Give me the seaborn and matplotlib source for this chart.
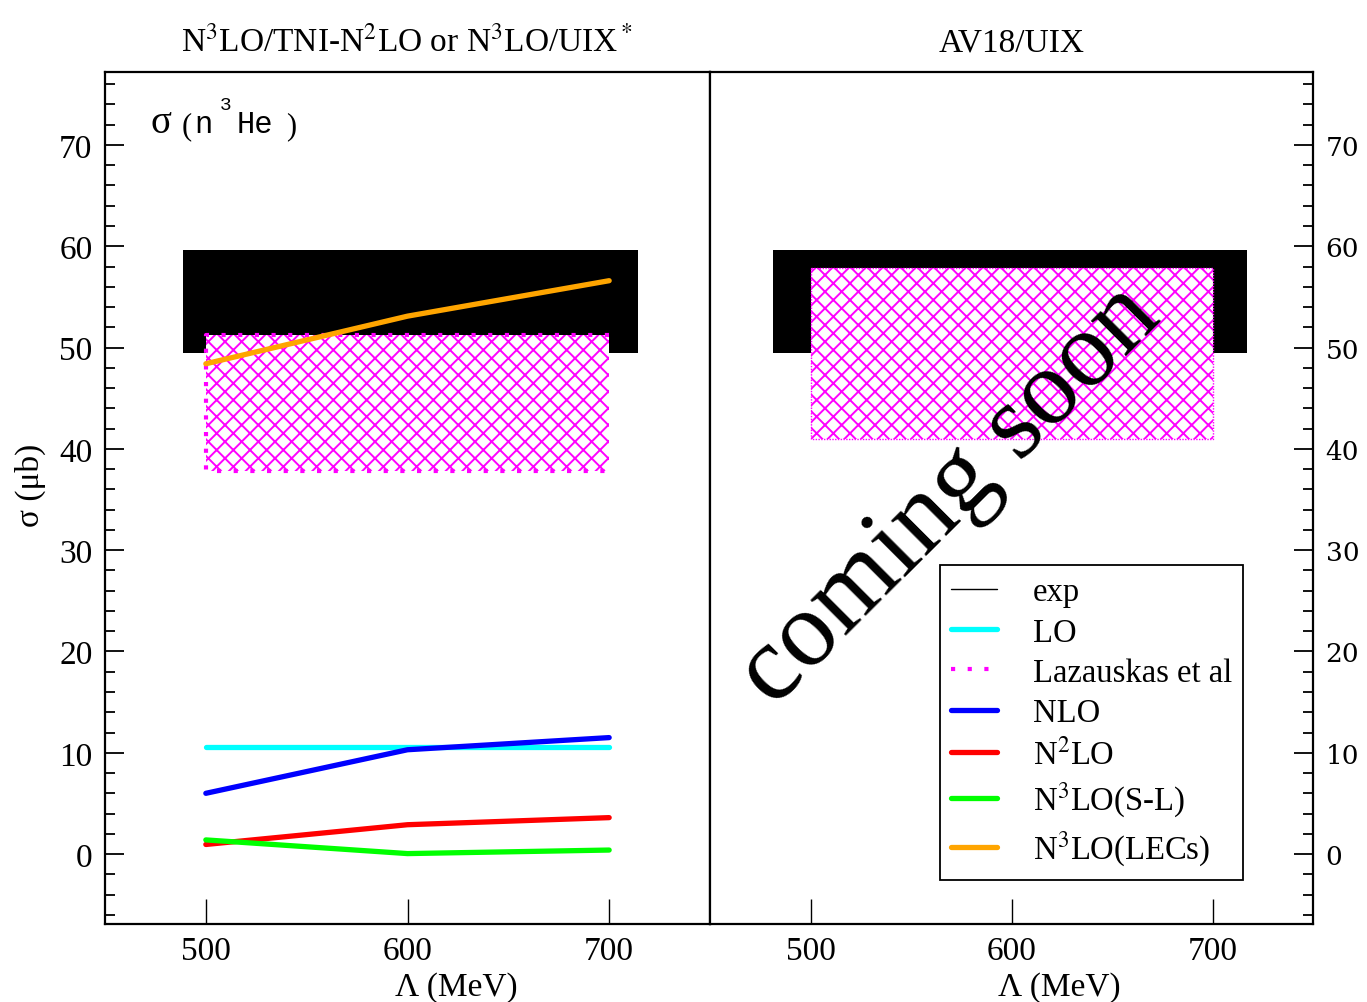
import numpy as np
import pandas as pd
import matplotlib
matplotlib.use("Agg")
import matplotlib.pyplot as plt
import seaborn as sns
from matplotlib.lines import Line2D

# ---------------- data ----------------
cutoff = [500, 600, 700]
lo = [10.6, 10.6, 10.6]
nlo = [6.0, 10.3, 11.5]
n2lo = [0.95, 2.9, 3.6]
n3lo_sl = [1.4, 0.05, 0.4]
n3lo_lecs = [48.4, 53.1, 56.6]

exp_band = [49.5, 59.6]
exp_x_left = [488.6, 714.4]
exp_x_right = [481.1, 717.4]
laz_x = [500, 700]
laz_left = [37.8, 51.2]
laz_right = [41.0, 57.9]

xticks = [500, 600, 700]
yticks = [0, 10, 20, 30, 40, 50, 60, 70]

title_left = r"N$^3$LO/TNI-N$^2$LO or N$^3$LO/UIX$^*$"
title_right = "AV18/UIX"
legend_labels = ["exp", "LO", "Lazauskas et al", "NLO", r"N$^2$LO",
                 r"N$^3$LO(S-L)", r"N$^3$LO(LECs)"]

# ---------------- style ----------------
sns.set_theme(style="ticks")
plt.rcParams["font.family"] = ["Liberation Serif", "DejaVu Serif"]
plt.rcParams["mathtext.fontset"] = "stix"
plt.rcParams["hatch.linewidth"] = 1.4
plt.rcParams["hatch.color"] = "magenta"
plt.rcParams["text.color"] = "black"
plt.rcParams["axes.labelcolor"] = "black"
plt.rcParams["xtick.color"] = "black"
plt.rcParams["ytick.color"] = "black"

W, H = 1367, 1003
fig = plt.figure(figsize=(W / 100, H / 100), dpi=100)
axL = fig.add_axes([105 / W, (H - 925) / H, 605 / W, 852 / H])
axR = fig.add_axes([710 / W, (H - 925) / H, 603 / W, 852 / H])

colors = {"LO": "#00FFFF", "NLO": "#0000FF", "N2LO": "#FF0000",
          "N3LO_SL": "#00FF00", "N3LO_LECs": "#FFA500"}
LW = 3.8

for ax, ex, lz in [(axL, exp_x_left, laz_left), (axR, exp_x_right, laz_right)]:
    ax.set_xlim(450, 750)
    ax.set_ylim(-6.9, 77.2)
    ax.fill_between(ex, exp_band[0], exp_band[1], color="black", lw=0, zorder=1)
    ax.fill_between(laz_x, lz[0], lz[1], facecolor="white", edgecolor="magenta",
                    hatch="xx", lw=0, zorder=2)
    for s in ax.spines.values():
        s.set_linewidth(1.6)
        s.set_color("black")
        s.set_visible(True)
    ax.set_xticks(xticks)
    ax.set_yticks(yticks)
    ax.set_yticks(np.arange(-6, 77, 2), minor=True)
    ax.tick_params(axis="x", which="major", direction="in", length=18, width=1.0,
                   labelsize=24, pad=8, top=False, bottom=True, colors="black")
    ax.tick_params(axis="x", which="minor", bottom=False, top=False)
    ax.set_xlabel(r"Λ (MeV)", fontsize=24)
    ax.xaxis.set_label_coords(0.58, -0.073)
    ax.xaxis.label.set_va("center")
    ax.grid(False)

# dotted outline of Lazauskas box
axL.plot([700, 500, 500, 700], [laz_left[1], laz_left[1], laz_left[0], laz_left[0]],
         color="magenta", ls=(0, (1, 3)), lw=3, zorder=3)
axR.plot([500, 700, 700, 500, 500],
         [laz_right[1], laz_right[1], laz_right[0], laz_right[0], laz_right[1]],
         color="magenta", ls=(0, (1, 1)), lw=1, zorder=3)

# theory lines
sns.lineplot(x=cutoff, y=lo, color=colors["LO"], lw=LW, ax=axL, zorder=4)
sns.lineplot(x=cutoff, y=nlo, color=colors["NLO"], lw=LW, ax=axL, zorder=5)
sns.lineplot(x=cutoff, y=n2lo, color=colors["N2LO"], lw=LW, ax=axL, zorder=5)
sns.lineplot(x=cutoff, y=n3lo_sl, color=colors["N3LO_SL"], lw=LW, ax=axL, zorder=6)
sns.lineplot(x=cutoff, y=n3lo_lecs, color=colors["N3LO_LECs"], lw=LW, ax=axL, zorder=6)
for ax in (axL, axR):
    ax.set_xlim(450, 750)
    ax.set_ylim(-6.9, 77.2)

# y ticks
axL.tick_params(axis="y", which="major", direction="in", length=14, width=1.3,
                left=True, right=False, labelleft=True, labelright=False,
                labelsize=24, pad=9, colors="black")
axL.tick_params(axis="y", which="minor", direction="in", length=7, width=1.3,
                left=True, right=False)
axR.tick_params(axis="y", which="major", direction="in", length=14, width=1.3,
                left=False, right=True, labelleft=False, labelright=True,
                labelsize=19, pad=9, colors="black")
axR.tick_params(axis="y", which="minor", direction="in", length=7, width=1.3,
                left=False, right=True)
for lab in axR.get_yticklabels():
    lab.set_family("DejaVu Serif")

axL.set_ylabel("σ (μb)", fontsize=24)
axL.yaxis.set_label_coords(-0.098, 0.516)
axR.set_ylabel("")

# panel annotations
trL = axL.transAxes
def axpt(px, py):
    return ((px - 105) / 605, (925 - py) / 852)
axL.text(*axpt(150, 133), "σ", fontsize=28, transform=trL, va="baseline", ha="left")
axL.text(*axpt(182, 134), "(", fontsize=22, transform=trL, va="baseline", ha="left")
axL.text(*axpt(194, 133), "n", fontsize=22, family="Liberation Mono",
         transform=trL, va="baseline", ha="left")
axL.text(*axpt(220, 110), "3", fontsize=14, family="Liberation Mono",
         transform=trL, va="baseline", ha="left")
axL.text(*axpt(237, 133), "He", fontsize=22, family="Liberation Mono",
         transform=trL, va="baseline", ha="left")
axL.text(*axpt(286, 134), ")", fontsize=22, transform=trL, va="baseline", ha="left")

fig.text(407 / W, 1 - 51 / H, title_left, fontsize=24, ha="center", va="baseline")
fig.text(1012 / W, 1 - 51 / H, title_right, fontsize=24, ha="center", va="baseline")

axR.text(569.5, 35.5, "coming soon", fontsize=77, rotation=45, color="black",
         rotation_mode="anchor", ha="center", va="center", zorder=7)

# legend
handles = [
    Line2D([], [], color="black", lw=1.0),
    Line2D([], [], color=colors["LO"], lw=LW),
    Line2D([], [], color="magenta", lw=3, ls=(0, (1, 3))),
    Line2D([], [], color=colors["NLO"], lw=LW),
    Line2D([], [], color=colors["N2LO"], lw=LW),
    Line2D([], [], color=colors["N3LO_SL"], lw=LW),
    Line2D([], [], color=colors["N3LO_LECs"], lw=LW),
]
leg = axR.legend(handles, legend_labels, loc="upper left",
                 bbox_to_anchor=(0.381, 0.421), borderaxespad=0,
                 fontsize=23.5, frameon=True, fancybox=False, framealpha=1,
                 edgecolor="black", handlelength=1.4, handletextpad=1.1,
                 borderpad=0.35, labelspacing=0.3)
leg.get_frame().set_linewidth(1.3)
leg.set_zorder(8)

fig.savefig("out.png", dpi=100)
